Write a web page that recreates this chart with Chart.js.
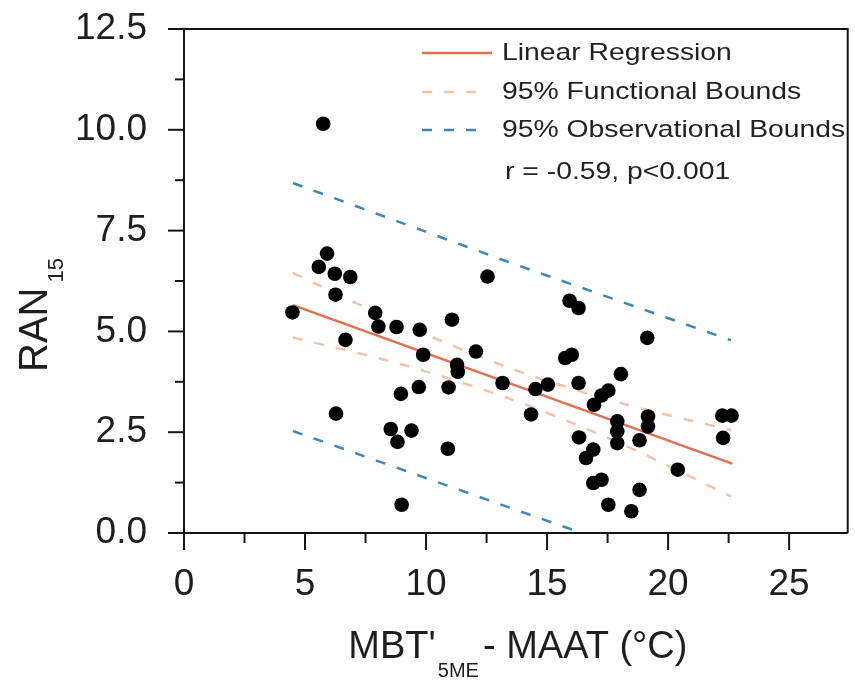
<!DOCTYPE html>
<html><head><meta charset="utf-8">
<script src="https://cdn.jsdelivr.net/npm/chart.js@4.4.1/dist/chart.umd.min.js"></script>
<style>html,body{margin:0;padding:0;background:#fff}</style>
</head><body>
<canvas id="c" width="855" height="683"></canvas>
<script>
// ---- data ----
const sampleX = [5.75, 5.91, 5.57, 6.23, 6.87, 6.26, 4.48, 7.90, 8.03, 8.78,
  6.67, 9.74, 11.07, 12.54, 9.88, 12.06, 11.28, 11.31, 13.16, 8.96,
  9.70, 10.93, 6.28, 8.54, 9.40, 8.82, 10.90, 8.99, 15.93, 16.30,
  19.14, 15.75, 16.02, 18.05, 14.52, 15.03, 16.30, 17.53, 17.25, 16.94,
  14.34, 17.90, 19.17, 19.17, 22.24, 22.62, 22.27, 17.90, 17.90, 16.32,
  18.82, 16.91, 16.61, 20.40, 17.25, 16.91, 18.82, 17.53, 18.48];
const sampleY = [10.15, 6.93, 6.60, 6.43, 6.35, 5.91, 5.47, 5.46, 5.12, 5.11,
  4.79, 5.04, 5.29, 6.36, 4.42, 4.50, 4.17, 4.00, 3.72, 3.45,
  3.62, 3.61, 2.96, 2.58, 2.54, 2.26, 2.09, 0.70, 5.76, 5.58,
  4.84, 4.34, 4.42, 3.94, 3.57, 3.68, 3.72, 3.53, 3.41, 3.18,
  2.94, 2.77, 2.89, 2.64, 2.91, 2.91, 2.36, 2.52, 2.23, 2.37,
  2.30, 2.07, 1.86, 1.57, 1.32, 1.24, 1.07, 0.70, 0.54];
const fitX = [4.5, 22.65];
const fitY = [5.65, 1.72];
const funcX = [4.5, 9, 13.5, 18, 22.6];
const funcUpper = [6.45, 5.18, 4.08, 3.23, 2.55];
const funcLower = [4.85, 4.18, 3.32, 2.23, 0.91];
const obsX = [4.5, 13.5, 22.6];
const obsUpper = [8.68, 6.70, 4.78];
const obsLower = [2.53, 0.62, -1.30];
const xTicks = [0, 5, 10, 15, 20, 25];
const yTicks = [0, 2.5, 5, 7.5, 10, 12.5];
const legendLabels = ['Linear Regression', '95% Functional Bounds', '95% Observational Bounds'];
const statText = 'r = -0.59, p<0.001';
const xTitleMain = "MBT'", xTitleSub = '5ME', xTitleRest = '- MAAT (\u00B0C)';
const yTitleMain = 'RAN', yTitleSub = '15';

const FONT = '"Liberation Sans", Arial, sans-serif';
const pts = (xs, ys) => xs.map((x, i) => ({x, y: ys[i]}));

const decor = {
  id: 'decor',
  afterDraw(chart) {
    const {ctx, chartArea: a, scales: {x, y}} = chart;
    ctx.save();
    ctx.strokeStyle = '#151515';
    ctx.lineWidth = 2;
    // frame
    ctx.beginPath();
    ctx.moveTo(a.left, a.top); ctx.lineTo(a.right, a.top); ctx.lineTo(a.right, a.bottom);
    ctx.moveTo(a.left, a.top); ctx.lineTo(a.left, a.bottom); ctx.lineTo(a.right, a.bottom);
    ctx.stroke();
    // tick marks (major + minor)
    for (let i = 0; i <= 10; i++) {
      const v = i * 1.25, py = y.getPixelForValue(v), major = i % 2 === 0;
      ctx.beginPath(); ctx.moveTo(a.left - (major ? 16 : 9), py); ctx.lineTo(a.left, py); ctx.stroke();
    }
    for (let i = 0; i * 2.5 <= x.max; i++) {
      const v = i * 2.5, px = x.getPixelForValue(v), major = i % 2 === 0;
      ctx.beginPath(); ctx.moveTo(px, a.bottom); ctx.lineTo(px, a.bottom + (major ? 17 : 10)); ctx.stroke();
    }
    // legend
    const ds = chart.data.datasets;
    const lx0 = a.left + 238, lx1 = a.left + 308, tx = a.left + 318;
    const rows = [[1, a.top + 24], [2, a.top + 63], [4, a.top + 101]];
    rows.forEach(([di, ry], k) => {
      const d = ds[di];
      ctx.save();
      ctx.strokeStyle = d.borderColor; ctx.lineWidth = d.borderWidth;
      ctx.setLineDash(d.borderDash || []);
      ctx.beginPath(); ctx.moveTo(lx0, ry); ctx.lineTo(d.borderDash ? lx0 + 62 : lx1, ry); ctx.stroke();
      ctx.restore();
      drawScaled(ctx, legendLabels[k], tx, ry, 24, 1.18);
    });
    drawScaled(ctx, statText, tx + 3, a.top + 143, 24, 1.18);
    // x title
    ctx.fillStyle = '#1e1e1e';
    ctx.textBaseline = 'alphabetic'; ctx.textAlign = 'left';
    ctx.font = '38px ' + FONT; const w1 = ctx.measureText(xTitleMain).width;
    const w3 = ctx.measureText(xTitleRest).width;
    ctx.font = '20px ' + FONT; const w2 = ctx.measureText(xTitleSub).width;
    const total = w1 + 2 + w2 + 4 + w3;
    let sx = (a.left + a.right) / 2 + 2 - total / 2;
    const by = 658;
    ctx.font = '38px ' + FONT; ctx.fillText(xTitleMain, sx, by);
    sx += w1 + 2;
    ctx.font = '20px ' + FONT; ctx.fillText(xTitleSub, sx, by + 19);
    sx += w2 + 4;
    ctx.font = '38px ' + FONT; ctx.fillText(xTitleRest, sx, by);
    // y title
    ctx.save();
    ctx.translate(47, 372); ctx.rotate(-Math.PI / 2);
    ctx.font = '40px ' + FONT; ctx.fillText(yTitleMain, 0, 0);
    const rw = ctx.measureText(yTitleMain).width;
    ctx.font = '22px ' + FONT; ctx.fillText(yTitleSub, rw + 5, 16);
    ctx.restore();
    ctx.restore();
  }
};
function drawScaled(ctx, text, x, y, size, sx) {
  ctx.save();
  ctx.translate(x, y); ctx.scale(sx, 1);
  ctx.fillStyle = '#222'; ctx.font = size + 'px ' + FONT;
  ctx.textBaseline = 'middle'; ctx.textAlign = 'left';
  ctx.fillText(text, 0, 0);
  ctx.restore();
}

new Chart(document.getElementById('c'), {
  type: 'scatter',
  data: {
    datasets: [
      {label: 'samples', data: pts(sampleX, sampleY), pointRadius: 7.3, pointBackgroundColor: '#000',
       pointBorderColor: '#000', pointBorderWidth: 0, order: 0},
      {label: legendLabels[0], data: pts(fitX, fitY), showLine: true, pointRadius: 0,
       borderColor: '#e0704f', borderWidth: 2.5, order: 1},
      {label: legendLabels[1], data: pts(funcX, funcUpper), showLine: true, pointRadius: 0, tension: 0.3,
       borderColor: '#f2c2aa', borderWidth: 2.5, borderDash: [10, 12], order: 2},
      {label: legendLabels[1] + ' lower', data: pts(funcX, funcLower), showLine: true, pointRadius: 0, tension: 0.3,
       borderColor: '#f2c2aa', borderWidth: 2.5, borderDash: [10, 12], order: 2},
      {label: legendLabels[2], data: pts(obsX, obsUpper), showLine: true, pointRadius: 0,
       borderColor: '#3f86b3', borderWidth: 2.5, borderDash: [10, 12], order: 3},
      {label: legendLabels[2] + ' lower', data: pts(obsX, obsLower), showLine: true, pointRadius: 0,
       borderColor: '#3f86b3', borderWidth: 2.5, borderDash: [10, 12], order: 3}
    ]
  },
  options: {
    responsive: false, animation: false, devicePixelRatio: 1,
    layout: {padding: {top: 29, right: 2, left: 0, bottom: 0}},
    plugins: {legend: {display: false}, tooltip: {enabled: false}},
    scales: {
      x: {type: 'linear', min: 0, max: 27.42,
        grid: {display: false}, border: {display: false},
        afterBuildTicks: s => { s.ticks = xTicks.map(v => ({value: v})); },
        afterFit: s => { s.height = 150; s.paddingLeft = 0; s.paddingRight = 0; },
        ticks: {padding: 22, color: '#1e1e1e', font: {size: 37, family: FONT}, callback: v => String(v)}},
      y: {type: 'linear', min: 0, max: 12.5,
        grid: {display: false}, border: {display: false},
        afterBuildTicks: s => { s.ticks = yTicks.map(v => ({value: v})); },
        afterFit: s => { s.width = 184; s.paddingTop = 0; s.paddingBottom = 0; },
        ticks: {padding: 29, color: '#1e1e1e', font: {size: 37, family: FONT}, callback: v => v.toFixed(1)}}
    }
  },
  plugins: [decor]
});
</script>
</body></html>
